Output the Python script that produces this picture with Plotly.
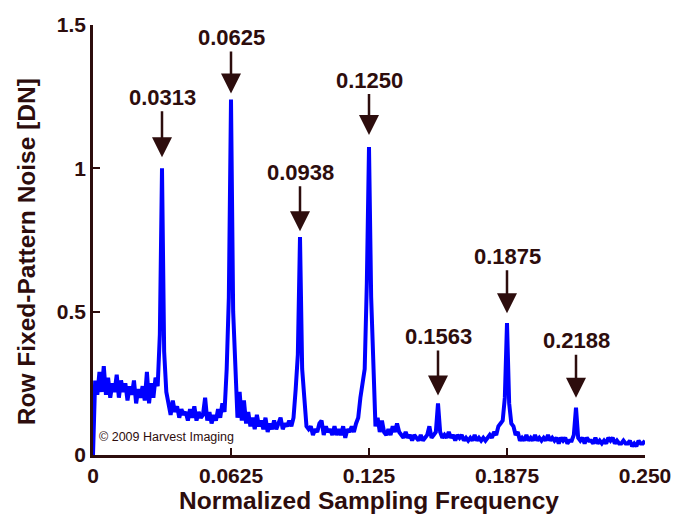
import plotly.graph_objects as go

# Spectrum sampled on bins of 0.25/256 normalized frequency
bin_width = 0.25 / 256
noise = [
    0.0, 0.26, 0.21, 0.29, 0.22, 0.31, 0.21, 0.27, 0.20, 0.25,
    0.22, 0.28, 0.20, 0.26, 0.22, 0.25, 0.19, 0.24, 0.21, 0.26,
    0.18, 0.23, 0.20, 0.24, 0.19, 0.29, 0.18, 0.25, 0.20, 0.27,
    0.24, 0.42, 1.00, 0.36, 0.22, 0.18, 0.14, 0.19, 0.15, 0.17,
    0.13, 0.16, 0.14, 0.15, 0.12, 0.16, 0.13, 0.17, 0.12, 0.15,
    0.13, 0.14, 0.20, 0.12, 0.15, 0.11, 0.14, 0.12, 0.16, 0.13,
    0.18, 0.15, 0.30, 0.55, 1.24, 0.50, 0.28, 0.13, 0.22, 0.12,
    0.19, 0.11, 0.15, 0.10, 0.13, 0.09, 0.14, 0.10, 0.12, 0.09,
    0.13, 0.08, 0.11, 0.09, 0.12, 0.09, 0.11, 0.13, 0.09, 0.11,
    0.10, 0.12, 0.10, 0.13, 0.23, 0.35, 0.76, 0.30, 0.20, 0.10,
    0.09, 0.10, 0.07, 0.09, 0.08, 0.11, 0.12, 0.07, 0.10, 0.08,
    0.09, 0.07, 0.10, 0.07, 0.09, 0.07, 0.10, 0.06, 0.09, 0.08,
    0.10, 0.08, 0.11, 0.13, 0.20, 0.25, 0.30, 0.60, 1.074, 0.55,
    0.26, 0.10, 0.13, 0.08, 0.12, 0.08, 0.07, 0.09, 0.07, 0.10,
    0.08, 0.11, 0.08, 0.07, 0.06, 0.08, 0.06, 0.07, 0.05, 0.07,
    0.06, 0.05, 0.07, 0.05, 0.06, 0.07, 0.10, 0.06, 0.07, 0.08,
    0.18, 0.08, 0.06, 0.07, 0.06, 0.08, 0.06, 0.07, 0.05, 0.07,
    0.06, 0.07, 0.05, 0.06, 0.05, 0.06, 0.05, 0.07, 0.05, 0.06,
    0.05, 0.06, 0.05, 0.06, 0.07, 0.06, 0.08, 0.07, 0.10, 0.11,
    0.12, 0.20, 0.46, 0.18, 0.11, 0.10, 0.07, 0.08, 0.05, 0.06,
    0.05, 0.07, 0.05, 0.06, 0.05, 0.07, 0.05, 0.06, 0.05, 0.06,
    0.05, 0.07, 0.05, 0.06, 0.05, 0.06, 0.04, 0.06, 0.05, 0.06,
    0.04, 0.05, 0.05, 0.07, 0.165, 0.06, 0.05, 0.06, 0.04, 0.06,
    0.05, 0.05, 0.04, 0.06, 0.04, 0.05, 0.04, 0.05, 0.04, 0.06,
    0.05, 0.06, 0.04, 0.05, 0.04, 0.04, 0.05, 0.04, 0.04, 0.05,
    0.03, 0.04, 0.03, 0.05, 0.04, 0.04, 0.05,
]

peak_bins = [32, 64, 96, 128, 160, 192, 224]
peak_labels = ["0.0313", "0.0625", "0.0938", "0.1250", "0.1563", "0.1875", "0.2188"]
label_offsets = [-71, -62, -65, -67, -67, -67, -67]
label_standoffs = [11, 6, 6, 12, 8, 10, 10]

x_tickvals = [0, 0.0625, 0.125, 0.1875, 0.25]
x_ticktext = ["0", "0.0625", "0.125", "0.1875", "0.250"]
y_tickvals = [0, 0.5, 1, 1.5]
y_ticktext = ["0", "0.5", "1", "1.5"]

INK = "#2d0d0d"
FONT = "Liberation Sans, Arial, sans-serif"

fig = go.Figure()
fig.add_trace(go.Scatter(
    y=noise, x0=0, dx=bin_width, mode="lines",
    line=dict(color="#0000ff", width=4),
    showlegend=False, hoverinfo="skip",
))

for b, lab, off, so in zip(peak_bins, peak_labels, label_offsets, label_standoffs):
    fig.add_annotation(
        x=b * bin_width, y=noise[b], text="<b>" + lab + "</b>",
        showarrow=True, arrowhead=2, arrowsize=1.6, arrowwidth=2.5,
        arrowcolor=INK, ax=0, ay=off, standoff=so,
        font=dict(family=FONT, size=22, color=INK),
    )

fig.add_annotation(
    x=0.0018, y=0.063, xref="x", yref="y", text="© 2009 Harvest Imaging",
    showarrow=False, xanchor="left", yanchor="middle",
    font=dict(family=FONT, size=12.5, color=INK),
)

# y-axis title placed as rotated annotation
fig.add_annotation(
    x=-0.121, y=0.472, xref="paper", yref="paper",
    text="<b>Row Fixed-Pattern Noise [DN]</b>", textangle=-90,
    showarrow=False, xanchor="center", yanchor="middle",
    font=dict(family=FONT, size=24.5, color=INK),
)

axis_common = dict(
    showline=True, linecolor=INK, linewidth=2.5, mirror=False,
    showgrid=False, zeroline=False, ticks="inside", ticklen=7,
    tickwidth=2, tickcolor=INK,
    tickfont=dict(family=FONT, size=21, color=INK, weight="bold"),
)

fig.update_layout(
    width=690, height=520,
    margin=dict(l=93, r=45, t=25, b=65),
    paper_bgcolor="white", plot_bgcolor="white",
    font=dict(family=FONT, color=INK),
    xaxis=dict(
        range=[0, 0.25], tickvals=x_tickvals, ticktext=x_ticktext,
        title=dict(text="<b>Normalized Sampling Frequency</b>",
                   font=dict(family=FONT, size=24.5, color=INK), standoff=0),
        **axis_common,
    ),
    yaxis=dict(
        range=[0, 1.5], tickvals=y_tickvals, ticktext=y_ticktext,
        **axis_common,
    ),
)

fig.write_html("out.html")
